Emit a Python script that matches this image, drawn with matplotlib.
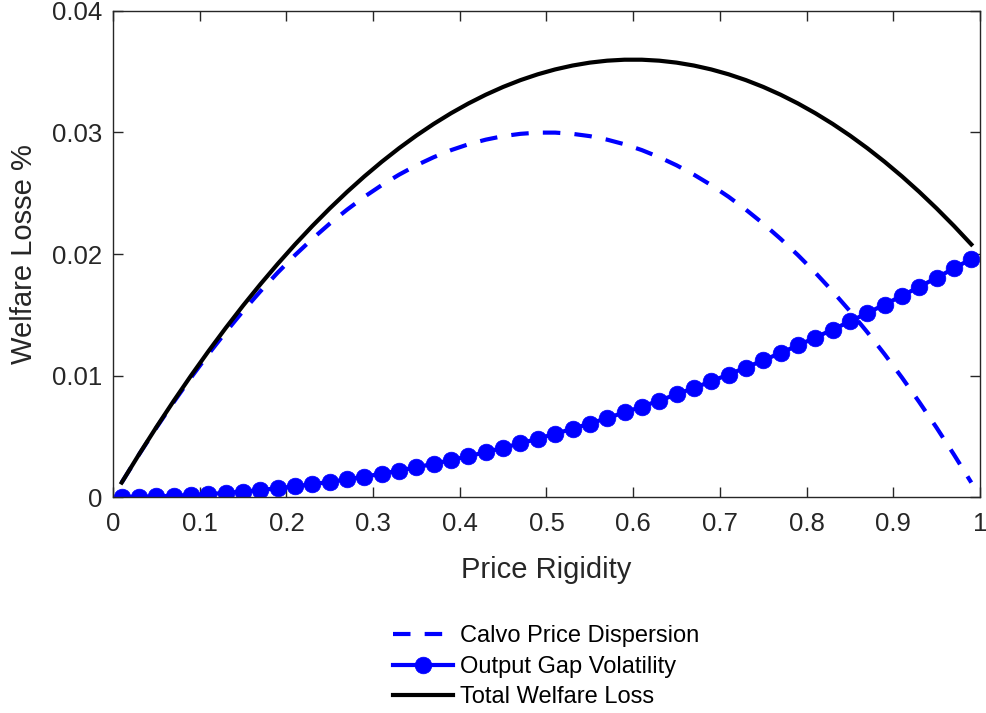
import matplotlib
matplotlib.use("Agg")
import matplotlib.pyplot as plt

plt.rcParams['font.family'] = ['Liberation Sans', 'DejaVu Sans']

# Price rigidity grid
rigidity = [0.01, 0.03, 0.05, 0.07, 0.09, 0.11, 0.13, 0.15, 0.17, 0.19,
            0.21, 0.23, 0.25, 0.27, 0.29, 0.31, 0.33, 0.35, 0.37, 0.39,
            0.41, 0.43, 0.45, 0.47, 0.49, 0.51, 0.53, 0.55, 0.57, 0.59,
            0.61, 0.63, 0.65, 0.67, 0.69, 0.71, 0.73, 0.75, 0.77, 0.79,
            0.81, 0.83, 0.85, 0.87, 0.89, 0.91, 0.93, 0.95, 0.97, 0.99]

# Welfare loss from Calvo price dispersion
calvo = [0.00119, 0.00349, 0.00570, 0.00781, 0.00983, 0.01175, 0.01357, 0.01530, 0.01693, 0.01847,
         0.01991, 0.02125, 0.02250, 0.02365, 0.02471, 0.02567, 0.02653, 0.02730, 0.02797, 0.02855,
         0.02903, 0.02941, 0.02970, 0.02989, 0.02999, 0.02999, 0.02989, 0.02970, 0.02941, 0.02903,
         0.02855, 0.02797, 0.02730, 0.02653, 0.02567, 0.02471, 0.02365, 0.02250, 0.02125, 0.01991,
         0.01847, 0.01693, 0.01530, 0.01357, 0.01175, 0.00983, 0.00781, 0.00570, 0.00349, 0.00119]

# Welfare loss from output gap volatility
output_gap = [0.000002, 0.000018, 0.000050, 0.000098, 0.000162, 0.000242, 0.000338, 0.000450, 0.000578, 0.000722,
              0.000882, 0.001058, 0.001250, 0.001458, 0.001682, 0.001922, 0.002178, 0.002450, 0.002738, 0.003042,
              0.003362, 0.003698, 0.004050, 0.004418, 0.004802, 0.005202, 0.005618, 0.006050, 0.006498, 0.006962,
              0.007442, 0.007938, 0.008450, 0.008978, 0.009522, 0.010082, 0.010658, 0.011250, 0.011858, 0.012482,
              0.013122, 0.013778, 0.014450, 0.015138, 0.015842, 0.016562, 0.017298, 0.018050, 0.018818, 0.019602]

# Total welfare loss
total = [0.00119, 0.00351, 0.00575, 0.00791, 0.00999, 0.01199, 0.01391, 0.01575, 0.01751, 0.01919,
         0.02079, 0.02231, 0.02375, 0.02511, 0.02639, 0.02759, 0.02871, 0.02975, 0.03071, 0.03159,
         0.03239, 0.03311, 0.03375, 0.03431, 0.03479, 0.03519, 0.03551, 0.03575, 0.03591, 0.03599,
         0.03599, 0.03591, 0.03575, 0.03551, 0.03519, 0.03479, 0.03431, 0.03375, 0.03311, 0.03239,
         0.03159, 0.03071, 0.02975, 0.02871, 0.02759, 0.02639, 0.02511, 0.02375, 0.02231, 0.02079]

x_ticks = [0, 0.1, 0.2, 0.3, 0.4, 0.5, 0.6, 0.7, 0.8, 0.9, 1]
x_tick_labels = ['0', '0.1', '0.2', '0.3', '0.4', '0.5', '0.6', '0.7', '0.8', '0.9', '1']
y_ticks = [0, 0.01, 0.02, 0.03, 0.04]
y_tick_labels = ['0', '0.01', '0.02', '0.03', '0.04']

fig = plt.figure(figsize=(9.86, 7.13), dpi=100)
ax = fig.add_axes([0.1146, 0.3029, 0.8793, 0.6817])

ax.plot(rigidity, calvo, color='#0000ff', lw=3.0, dashes=(4.2, 3.4),
        label='Calvo Price Dispersion')
ax.plot(rigidity, output_gap, color='#0000ff', lw=3.0, marker='o',
        markersize=12, markeredgewidth=0.5, label='Output Gap Volatility')
ax.plot(rigidity, total, color='black', lw=3.0, label='Total Welfare Loss')

ax.set_xlim(0, 1)
ax.set_ylim(0, 0.04)
ax.set_xticks(x_ticks)
ax.set_xticklabels(x_tick_labels)
ax.set_yticks(y_ticks)
ax.set_yticklabels(y_tick_labels)

edge = '#262626'
for s in ax.spines.values():
    s.set_color(edge)
    s.set_linewidth(1.0)
ax.tick_params(direction='in', length=7, width=1.0, colors=edge,
               top=True, right=True, labelsize=18.5)
ax.tick_params(axis='x', pad=11)
ax.tick_params(axis='y', pad=8)
for lbl in ax.get_xticklabels() + ax.get_yticklabels():
    lbl.set_color('#262626')

ax.set_xlabel('Price Rigidity', fontsize=21, color='#262626')
ax.set_ylabel('Welfare Losse %', fontsize=21, color='#262626')
ax.xaxis.set_label_coords(0.5, -0.1215)
ax.yaxis.set_label_coords(-0.0865, 0.5)

handles, labels = ax.get_legend_handles_labels()
fig.legend(handles, labels, loc='upper center', bbox_to_anchor=(0.554, 0.1526),
           frameon=False, fontsize=17, handlelength=2.55, handletextpad=0.3,
           labelspacing=0.36, numpoints=1)

fig.savefig('out.png', dpi=100)
